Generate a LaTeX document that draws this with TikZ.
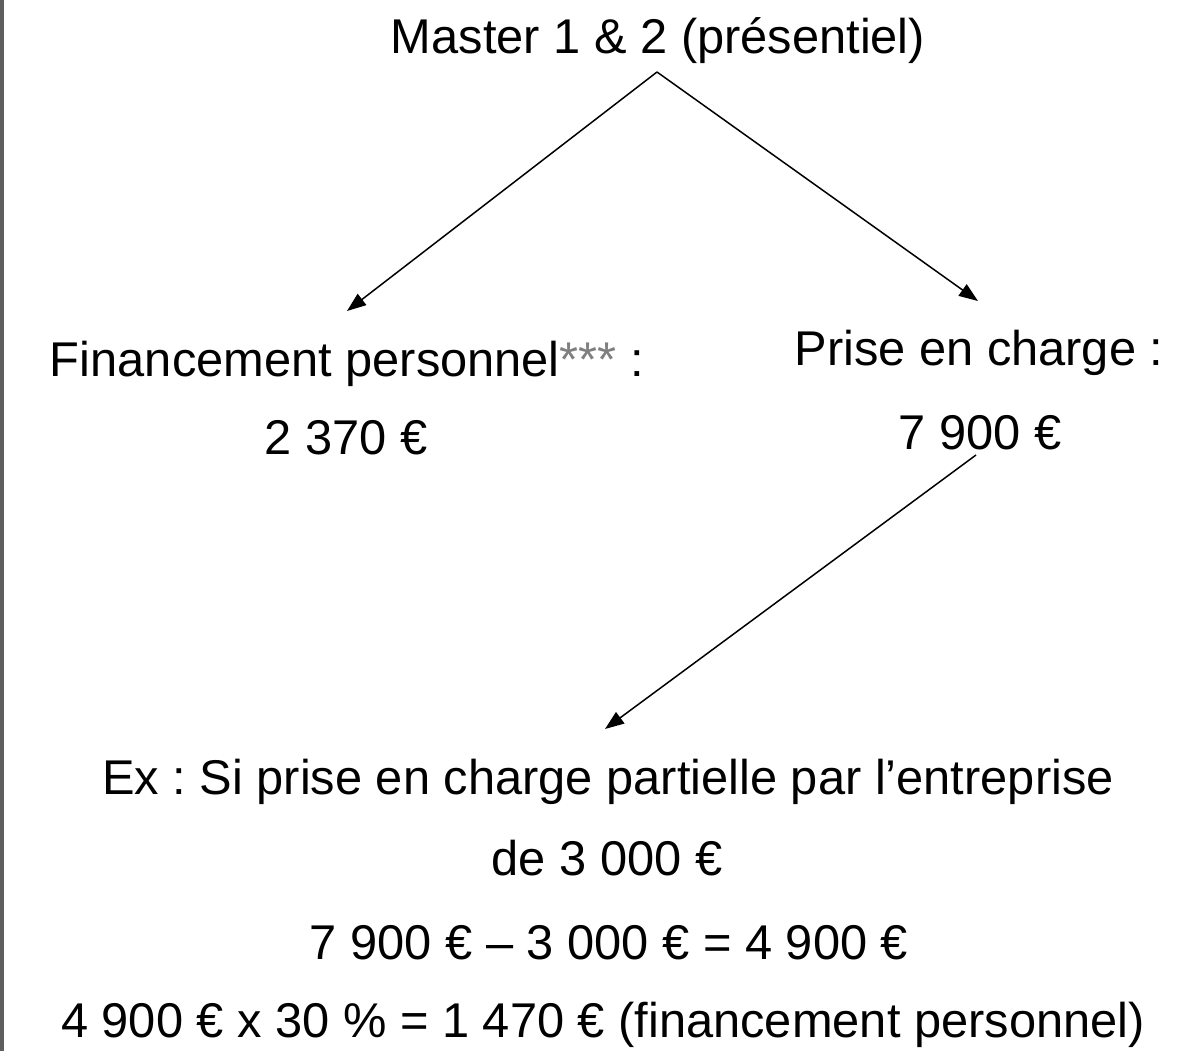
\documentclass[tikz,border=0pt]{standalone}
\usepackage{fontspec}
\setmainfont{Liberation Sans}
\usetikzlibrary{arrows.meta}
\definecolor{barcol}{HTML}{5E5E5E}
\definecolor{stargray}{HTML}{7F7F7F}
\frenchspacing
\begin{document}
\begin{tikzpicture}[x=0.5pt,y=-0.5pt,
  txt/.style={anchor=base,inner sep=0pt,font=\fontsize{24.4}{29}\selectfont},
  conn/.style={line width=0.75pt,-{Triangle[length=9.5pt,width=7pt]}}]
\useasboundingbox (0,0) rectangle (1191,1051);
\fill[barcol] (0,0) rectangle (4,1051);
\node[txt] (title) at (658,53) {Master 1 \& 2 (présentiel)};
\node[txt] (fin) at (347,376) {Financement personnel\textcolor{stargray}{***} :};
\node[txt] (finamt) at (346,454) {2 370 €};
\node[txt] (prise) at (979,365) {Prise en charge :};
\node[txt] (priseamt) at (980,449) {7 900 €};
\node[txt] (ex1) at (608,794) {Ex : Si prise en charge partielle par l’entreprise};
\node[txt] (ex2) at (607,875) {de 3 000 €};
\node[txt] (ex3) at (609,959) {7 900 € – 3 000 € = 4 900 €};
\node[txt] (ex4) at (603,1037) {4 900 € x 30 \% = 1 470 € (financement personnel)};
\coordinate (apex) at (657,72);
\coordinate (tipfin) at (347,311);
\coordinate (tipprise) at (978,301);
\coordinate (startprise) at (976,455);
\coordinate (tipex) at (605,729);
\draw[conn] (apex) -- (tipfin);
\draw[conn] (apex) -- (tipprise);
\draw[conn] (startprise) -- (tipex);
\end{tikzpicture}
\end{document}
